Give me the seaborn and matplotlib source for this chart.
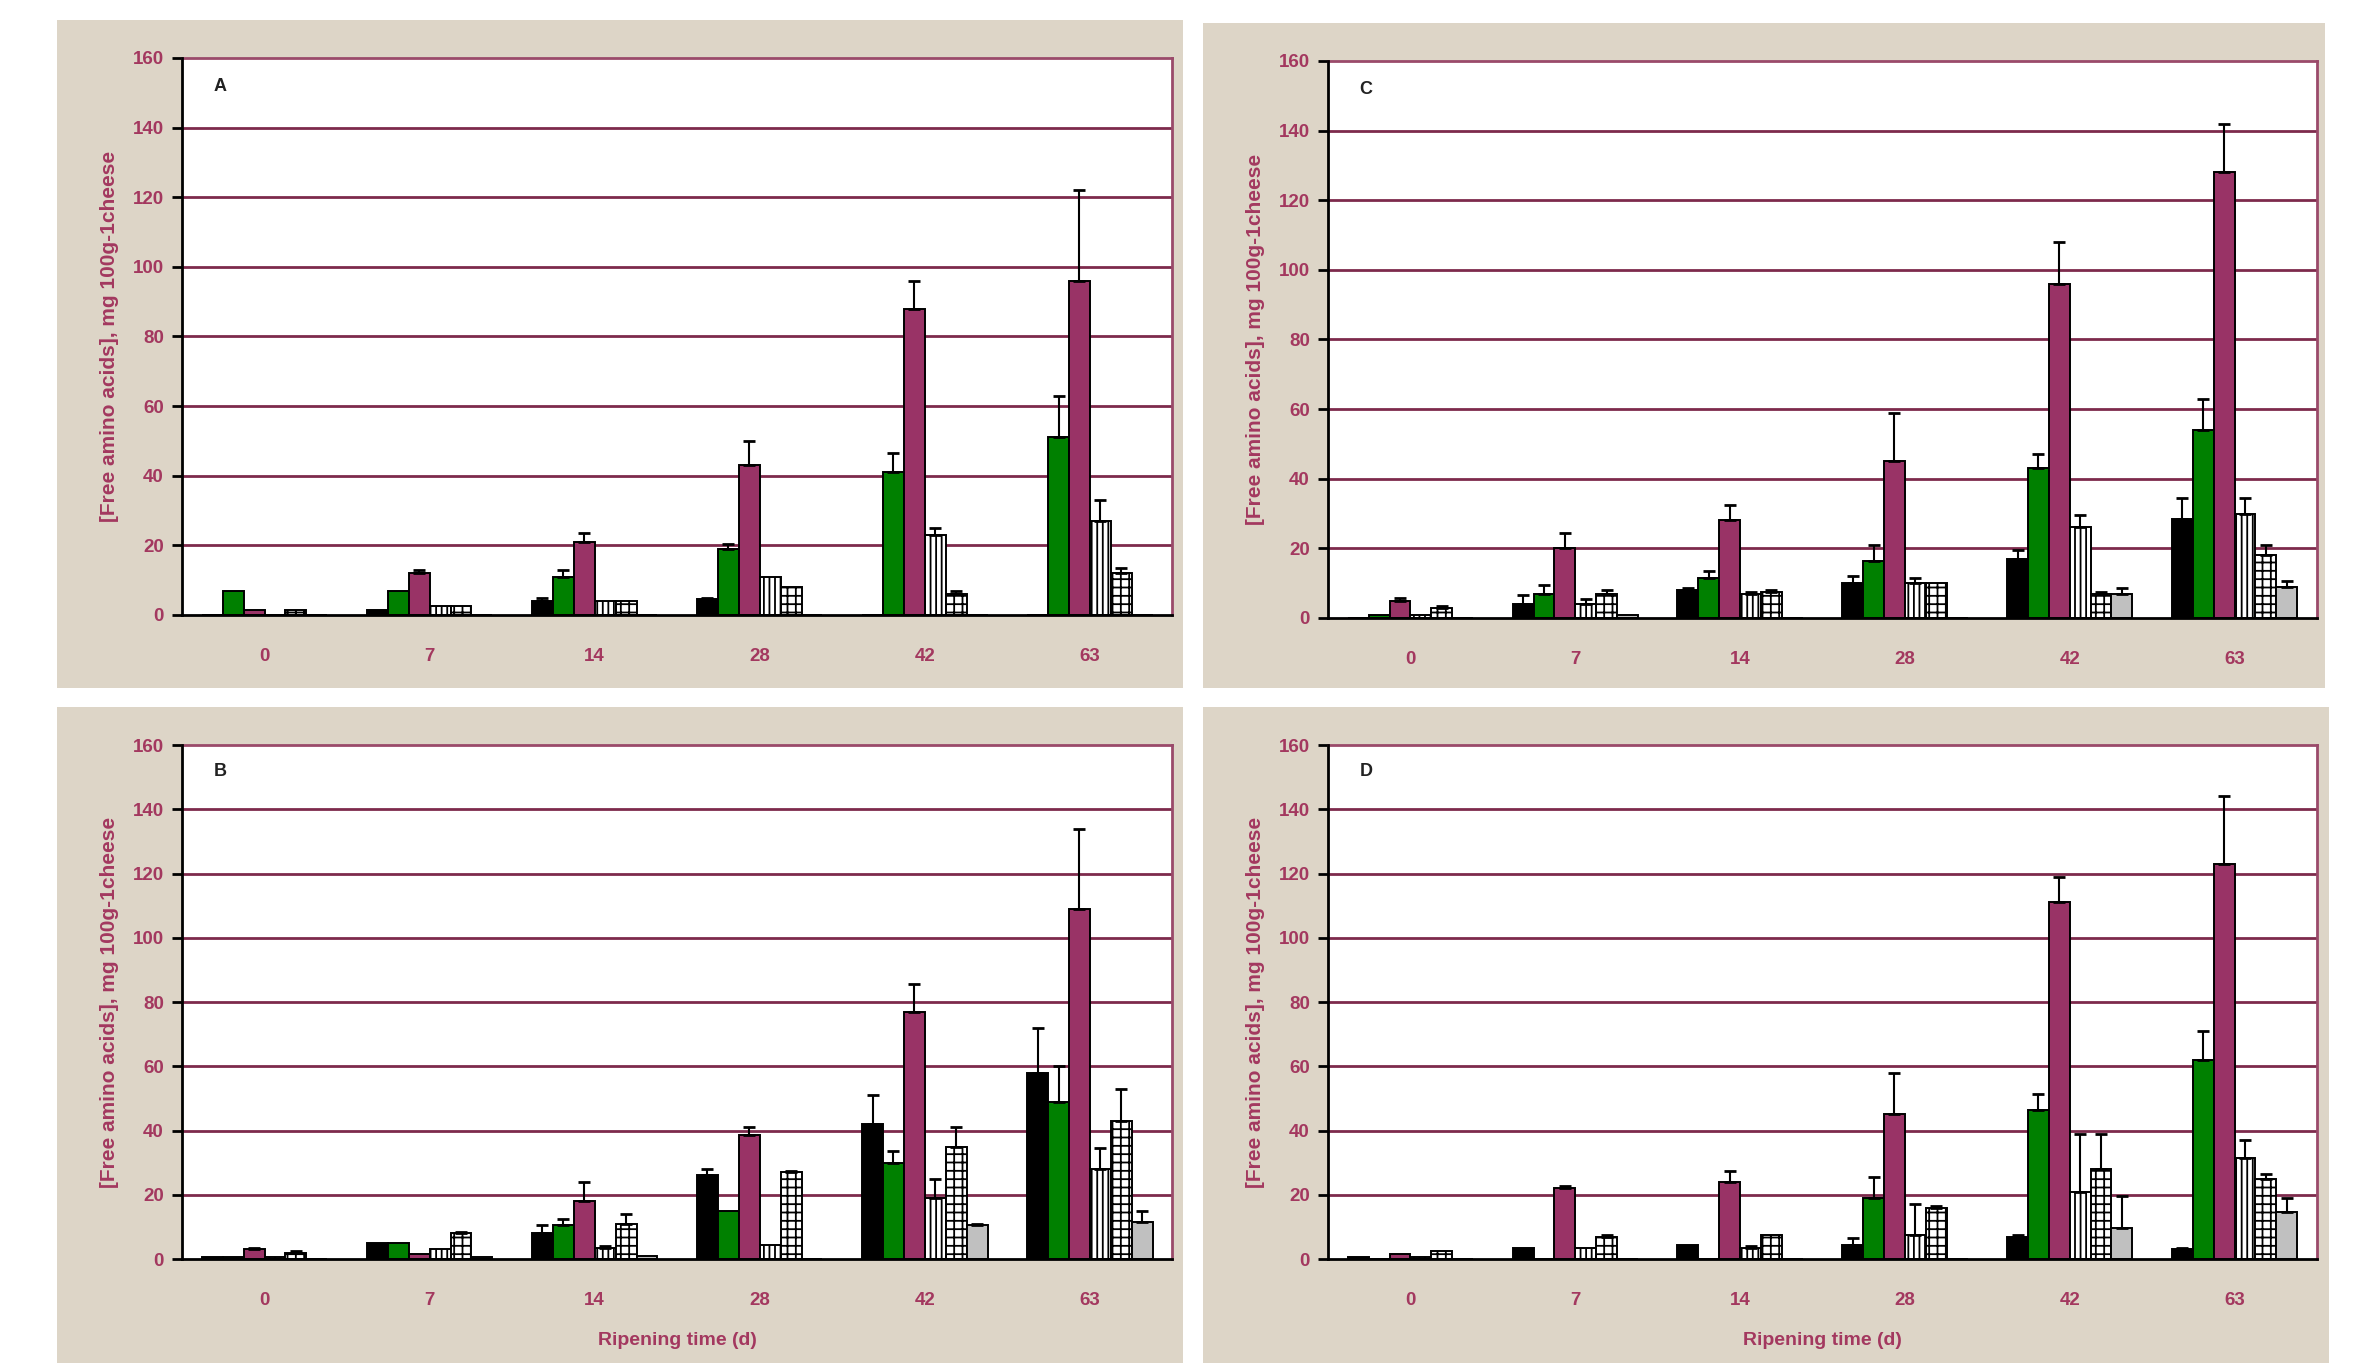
import matplotlib
matplotlib.use("Agg")
import matplotlib.pyplot as plt
import numpy as np
import pandas as pd
import seaborn as sns
from matplotlib.patches import Rectangle

days = ["0", "7", "14", "28", "42", "63"]
series = ["S1", "S2", "S3", "S4", "S5", "S6"]

# rows = series (black, green, maroon, striped, grid, grey), cols = days
a_means = [[0, 1.5, 4, 4.5, 0, 0],
           [7, 7, 11, 19, 41, 51],
           [1.5, 12, 21, 43, 88, 96],
           [0, 2.5, 4, 11, 23, 27],
           [1.5, 2.5, 4, 8, 6, 12],
           [0, 0, 0, 0, 0, 0]]
a_errs = [[0, 0, 1, 0.5, 0, 0],
          [0, 0, 2, 1.5, 5.5, 12],
          [0, 0.8, 2.5, 7, 8, 26],
          [0, 0, 0, 0, 2, 6],
          [0, 0, 0, 0, 1, 1.5],
          [0, 0, 0, 0, 0, 0]]

c_means = [[0, 4, 8, 10, 17, 28.5],
           [1, 7, 11.5, 16.5, 43, 54],
           [5, 20, 28, 45, 96, 128],
           [1, 4, 7, 10, 26, 30],
           [3, 7, 7.5, 10, 7, 18],
           [0, 1, 0, 0, 7, 9]]
c_errs = [[0, 2.5, 0.5, 2, 2.5, 6],
          [0, 2.5, 2, 4.5, 4, 9],
          [0.8, 4.5, 4.5, 14, 12, 14],
          [0, 1.5, 0.5, 1.5, 3.5, 4.5],
          [0.5, 1, 0.5, 0, 0.5, 3],
          [0, 0, 0, 0, 1.5, 1.5]]

b_means = [[0.5, 5, 8, 26, 42, 58],
           [0.5, 5, 10.5, 15, 30, 49],
           [3, 1.5, 18, 38.5, 77, 109],
           [0.5, 3, 3.5, 4.5, 19, 28],
           [2, 8, 11, 27, 35, 43],
           [0, 0.5, 1, 0, 10.5, 11.5]]
b_errs = [[0, 0, 2.5, 2, 9, 14],
          [0, 0, 2, 0, 3.5, 11],
          [0.5, 0, 6, 2.5, 8.5, 25],
          [0, 0, 0.5, 0, 6, 6.5],
          [0.5, 0.5, 3, 0.5, 6, 10],
          [0, 0, 0, 0, 0.5, 3.5]]

d_means = [[0.5, 3.5, 4.5, 4.5, 7, 3],
           [0, 0, 0, 19, 46.5, 62],
           [1.5, 22, 24, 45, 111, 123],
           [0.5, 3.5, 3.5, 7.5, 21, 31.5],
           [2.5, 7, 7.5, 16, 28, 25],
           [0, 0, 0, 0, 9.5, 14.5]]
d_errs = [[0, 0, 0, 2, 0.5, 0.5],
          [0, 0, 0, 6.5, 5, 9],
          [0, 0.8, 3.5, 13, 8, 21],
          [0, 0, 0.5, 9.5, 18, 5.5],
          [0, 0.5, 0, 0.5, 11, 1.5],
          [0, 0, 0, 0, 10, 4.5]]

bar_colors = ["#000000", "#008000", "#993366", "#ffffff", "#ffffff", "#c0c0c0"]
bar_hatches = [None, None, None, "|||", "++", None]

text_color = "#a3385f"
grid_color = "#7d2a4c"
panel_bg = "#ddd5c7"

sns.set_theme(style="white")
plt.rcParams["font.family"] = ["Liberation Sans", "DejaVu Sans"]
plt.rcParams["hatch.linewidth"] = 1.3

fig = plt.figure(figsize=(23.58, 13.63), dpi=100)

# beige card behind each chart
for x0, y0, w, h in [(0.0242, 0.4952, 0.4775, 0.490), (0.5102, 0.4952, 0.4758, 0.488),
                     (0.0242, 0.0, 0.4775, 0.481), (0.5102, 0.0, 0.4775, 0.481)]:
    fig.add_artist(Rectangle((x0, y0), w, h, transform=fig.transFigure,
                             facecolor=panel_bg, edgecolor="none", zorder=0))

panels = [
    ("A", a_means, a_errs, [0.0772, 0.5488, 0.420, 0.4087], False),
    ("C", c_means, c_errs, [0.5632, 0.5466, 0.4194, 0.4087], False),
    ("B", b_means, b_errs, [0.0772, 0.0763, 0.420, 0.3771], True),
    ("D", d_means, d_errs, [0.5632, 0.0763, 0.4194, 0.3771], True),
]

for letter, means, errs, pos, bottom in panels:
    ax = fig.add_axes(pos)
    df = pd.DataFrame({
        "day": np.tile(days, len(series)),
        "series": np.repeat(series, len(days)),
        "value": np.array(means, dtype=float).ravel(),
    })
    sns.barplot(data=df, x="day", y="value", hue="series", order=days,
                hue_order=series, palette=bar_colors, width=0.76, gap=0,
                edgecolor="black", linewidth=1.4, errorbar=None,
                legend=False, saturation=1, ax=ax, zorder=3)

    bars = ax.patches
    for i, s in enumerate(series):
        for j, d in enumerate(days):
            p = bars[i * len(days) + j]
            if bar_hatches[i]:
                p.set_hatch(bar_hatches[i])
            e = errs[i][j]
            if e > 0:
                ax.errorbar(p.get_x() + p.get_width() / 2, p.get_height(),
                            yerr=[[0], [e]], fmt="none", ecolor="black",
                            elinewidth=1.5, capsize=4, capthick=2, zorder=4)

    ax.set_facecolor("white")
    ax.set_ylim(0, 160)
    ax.set_xlim(-0.5, 5.5)
    ax.set_yticks(np.arange(0, 161, 20))
    for yv in range(20, 160, 20):
        ax.axhline(yv, color=grid_color, lw=2, zorder=1)

    for side in ["top", "right"]:
        ax.spines[side].set_color("#9a4a6a")
        ax.spines[side].set_linewidth(2)
    for side in ["left", "bottom"]:
        ax.spines[side].set_color("black")
        ax.spines[side].set_linewidth(2)
        ax.spines[side].set_zorder(5)

    ax.set_xticks(np.arange(6))
    ax.set_xticks(np.arange(-0.5, 6, 1), minor=True)
    ax.tick_params(axis="x", which="major", length=0, pad=24,
                   labelsize=13.5, labelcolor=text_color)
    ax.tick_params(axis="x", which="minor", length=7, width=2,
                   color="black", direction="out")
    ax.tick_params(axis="y", length=7, width=2, color="black",
                   direction="out", left=True, labelsize=13.5,
                   labelcolor=text_color, pad=6)
    for lab in ax.get_xticklabels() + ax.get_yticklabels():
        lab.set_fontweight("bold")

    ax.set_ylabel("[Free amino acids], mg 100g-1cheese", color=text_color,
                  fontsize=15, fontweight="bold", labelpad=10)
    if bottom:
        ax.set_xlabel("Ripening time (d)", color=text_color, fontsize=14,
                      fontweight="bold", labelpad=16)
    else:
        ax.set_xlabel("")

    ax.text(0.032, 0.948, letter, transform=ax.transAxes, fontsize=13,
            fontweight="bold", color="#222222", va="center", ha="left")

fig.savefig("out.png", dpi=100, facecolor="white")
